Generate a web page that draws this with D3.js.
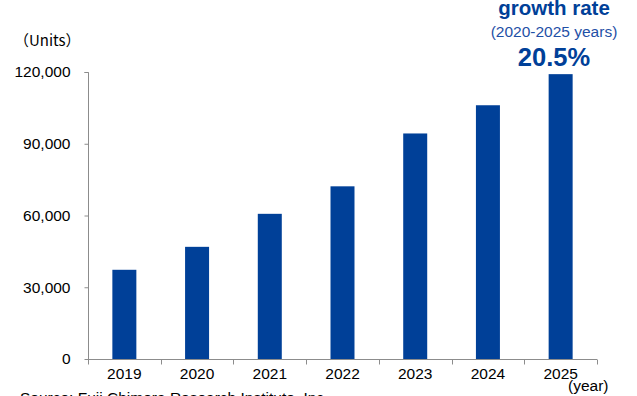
<!DOCTYPE html>
<html>
<head>
<meta charset="utf-8">
<script src="https://cdn.jsdelivr.net/npm/d3@7"></script>
<style>
  html, body { margin: 0; padding: 0; background: #fff; }
  svg { display: block; }
  text { font-family: "Liberation Sans", Arial, sans-serif; }
</style>
</head>
<body>
<svg id="chart" width="637" height="396"></svg>
<script>
const years = ["2019", "2020", "2021", "2022", "2023", "2024", "2025"];
const units = [37300, 46900, 60700, 72200, 94300, 106100, 119100];
const yTicks = [0, 30000, 60000, 90000, 120000];

const svg = d3.select("#chart");
const barColor = "#004098";
const axisColor = "#8c8c8c";
const fontStack = "'Liberation Sans', Arial, sans-serif";

const x = d3.scaleBand().domain(years).range([88, 597]).paddingInner(0.67).paddingOuter(0.335);
const y = d3.scaleLinear().domain([0, 120000]).range([359, 72]);

// bars
svg.append("g").selectAll("rect").data(years).join("rect")
  .attr("x", d => x(d))
  .attr("y", (d, i) => y(units[i]))
  .attr("width", x.bandwidth())
  .attr("height", (d, i) => y(0) - y(units[i]))
  .attr("fill", barColor);

// y axis
const yAxis = d3.axisLeft(y).tickValues(yTicks).tickSize(4).tickPadding(14)
  .tickFormat(d3.format(","));
const gy = svg.append("g").attr("transform", "translate(88.5,0)").call(yAxis);
gy.select(".domain").attr("stroke", axisColor).attr("d", `M-4,${y(120000)+0.5}H0V${y(0)+0.5}`);
gy.selectAll(".tick line").attr("stroke", axisColor);
gy.selectAll(".tick text").attr("fill", "#000").style("font-size", "15.5px")
  .style("font-family", fontStack);

// x axis
const xAxis = d3.axisBottom(x).tickSize(0).tickPadding(8);
const gx = svg.append("g").attr("transform", `translate(0,${y(0)+0.5})`).call(xAxis);
gx.select(".domain").attr("stroke", axisColor).attr("d", `M88,0H597`);
gx.selectAll(".tick text").attr("fill", "#000").style("font-size", "15.5px")
  .style("font-family", fontStack);
// boundary ticks between categories
const bounds = years.map(d => x(d) - x.step() * x.paddingInner() / 2).concat([597]);
gx.append("g").selectAll("line").data(bounds).join("line")
  .attr("x1", d => Math.round(d) + 0.5).attr("x2", d => Math.round(d) + 0.5)
  .attr("y1", 0).attr("y2", 5).attr("stroke", axisColor);

// unit label
svg.append("text").attr("x", 14).attr("y", 46).text("（Units）")
  .style("font-size", "15px").style("font-family", "'Noto Sans CJK JP', 'Liberation Sans', sans-serif")
  .attr("fill", "#000");

// year label
svg.append("text").attr("x", 568).attr("y", 391).text("(year)")
  .style("font-size", "15.5px").attr("fill", "#000");

// source
svg.append("text").attr("x", 20).attr("y", 403).text("Source: Fuji Chimera Research Institute, Inc.")
  .style("font-size", "15.5px").attr("fill", "#000");

// growth annotation
const cx = 554;
svg.append("text").attr("x", cx).attr("y", 15).attr("text-anchor", "middle")
  .text("growth rate").style("font-size", "20.5px").style("font-weight", "bold").attr("fill", barColor);
svg.append("text").attr("x", cx).attr("y", 37).attr("text-anchor", "middle")
  .text("(2020-2025 years)").style("font-size", "15.5px").attr("fill", "#1f50a6");
svg.append("text").attr("x", cx).attr("y", 66).attr("text-anchor", "middle")
  .text("20.5%").style("font-size", "25.5px").style("font-weight", "bold").attr("fill", barColor);
</script>
</body>
</html>
